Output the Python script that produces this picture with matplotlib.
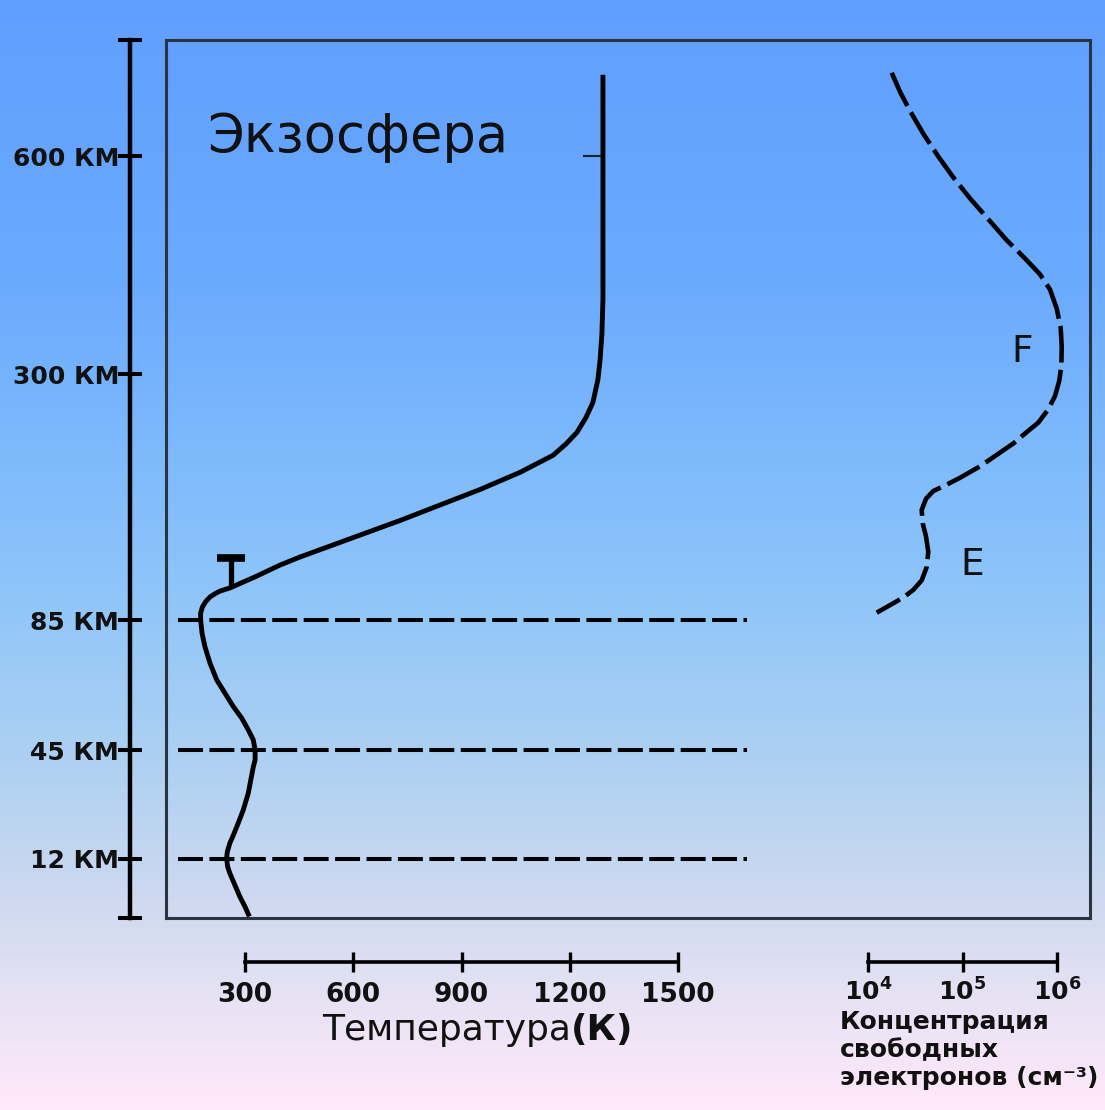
import numpy as np
import matplotlib.pyplot as plt
from matplotlib.colors import LinearSegmentedColormap
from matplotlib.ticker import NullLocator

W, H = 1105, 1110

# --- data -----------------------------------------------------------------
# altitude ticks on the left axis (km)
ALT_TICKS = [12, 45, 85, 300, 600]
ALT_LABELS = ['12 КМ', '45 КМ', '85 КМ', '300 КМ', '600 КМ']
ALT_TOP = 760
LAYER_ALTS = [12, 45, 85]
LAYER_T_RANGE = (115, 1690)

# temperature profile
temp_alt = [0.3, 2.3, 4.3, 6.7, 9.1, 10.4, 12.2, 14.2, 16.8, 19.3, 22.8,
            26.8, 31.9, 35.9, 39.9, 42.0, 45, 48.1, 51.2, 54.8, 58.3, 62.4,
            66.5, 71.7, 76.8, 80.9, 85, 91.1, 96.4, 101, 105.1, 108, 110.3,
            113, 123, 133, 140, 172, 199, 214, 229, 239, 249, 262, 275, 295,
            319, 354, 402, 540, 712]
temp_K = [312, 300, 286, 272, 258, 252, 249, 251, 258, 268, 281,
          295, 309, 316, 323, 328, 328, 323, 309, 291, 268, 245,
          222, 203, 189, 181, 177, 177, 182, 191, 203, 217, 231,
          258, 330, 397, 452, 730, 951, 1062, 1154, 1190, 1220, 1245, 1264,
          1278, 1284, 1289, 1292, 1292, 1292]

# thermopause marker and 600 km tick on the curve
MARK_T = 260
MARK_ALT = (113, 139)
TICK600_T = (1240, 1285)

TEMP_TICKS = [300, 600, 900, 1200, 1500]

# free electron concentration (log10 cm^-3)
elec_alt = [714.8, 688.5, 662.3, 630.8, 599.3, 570.5, 541.8, 513.0, 484.2,
            459.1, 437.2, 416.3, 390.0, 363.8, 337.7, 311.6, 294.1, 280.8,
            269.2, 257.5, 249.2, 239.3, 229.3, 219.3, 209.3, 202.6, 197.7,
            191.0, 181.1, 169.5, 157.9, 144.6, 131.2, 119.6, 111.3, 104.7,
            98.0, 91.4]
elec_log = [4.251, 4.339, 4.444, 4.585, 4.744, 4.903, 5.079, 5.273, 5.467,
            5.661, 5.820, 5.926, 5.997, 6.039, 6.050, 6.046, 6.024, 5.979,
            5.908, 5.802, 5.679, 5.538, 5.362, 5.185, 4.974, 4.815, 4.691,
            4.614, 4.568, 4.579, 4.614, 4.638, 4.621, 4.568, 4.479, 4.374,
            4.233, 4.092]
ELEC_TICKS = [1e4, 1e5, 1e6]
ELEC_LABELS = [r'$\mathbf{10^4}$', r'$\mathbf{10^5}$', r'$\mathbf{10^6}$']

# --- layout helpers ----------------------------------------------------------
ALT_ANCHOR = np.array([0, 12, 45, 85, 300, 600, 760, 2000])
POS_ANCHOR = np.array([0, 59, 168, 298, 544, 762, 878, 1970.0])


def alt_fwd(a):
    return np.interp(a, ALT_ANCHOR, POS_ANCHOR)


def alt_inv(p):
    return np.interp(p, POS_ANCHOR, ALT_ANCHOR)


def rect(x0, y0, x1, y1):
    return [x0 / W, 1 - y1 / H, (x1 - x0) / W, (y1 - y0) / H]


fig = plt.figure(figsize=(W / 100, H / 100), dpi=100)

# background gradient
bg = fig.add_axes([0, 0, 1, 1], zorder=-5)
cmap = LinearSegmentedColormap.from_list('sky', [
    (0.0, '#609fff'), (0.25, '#6aaafe'), (0.52, '#8cc4fa'),
    (0.68, '#acd0f2'), (0.8, '#cbd8f0'), (0.9, '#e6e2f4'),
    (1.0, '#ffe9fa')])
grad = np.linspace(0, 1, 256).reshape(-1, 1)
bg.imshow(grad, aspect='auto', cmap=cmap, extent=[0, 1, 0, 1])
bg.axis('off')

# main box
BOX = (166, 40, 1090, 918)
ax = fig.add_axes(rect(*BOX))
ax.patch.set_alpha(0)
ax.set_yscale('function', functions=(alt_fwd, alt_inv))
ax.set_ylim(0, ALT_TOP)
k = (678 - 245) / 1200.0
ax.set_xlim(300 - (245 - BOX[0]) / k, 300 + (BOX[2] - 245) / k)
ax.set_xticks([])
ax.set_yticks([])
ax.yaxis.set_minor_locator(NullLocator())
for s in ax.spines.values():
    s.set_linewidth(2.2)
    s.set_color('#2a3340')

ax.plot(temp_K, temp_alt, color='black', lw=3.5, solid_capstyle='butt',
        solid_joinstyle='round')
for a in LAYER_ALTS:
    ax.plot(LAYER_T_RANGE, [a, a], color='black', lw=2.9,
            dashes=(6.2, 1.6))
ax.plot([MARK_T, MARK_T], MARK_ALT, color='black', lw=3.8, solid_capstyle='butt')
ax.plot([MARK_T], [MARK_ALT[1]], marker='_', ms=20, mew=5.5, color='black')
ax.plot(TICK600_T, [600, 600], color='#1a2030', lw=1.5)

ax.text(0.0444, 0.8724, 'Экзосфера', transform=ax.transAxes,
        fontsize=38, color='#111111', va='baseline', ha='left')

# electron concentration on a log axis sharing altitude
ax2 = ax.twiny()
ax2.set_xscale('log')
dec = (1057 - 868) / 2.0
ax2.set_xlim(10 ** (4 - (868 - BOX[0]) / dec), 10 ** (6 + (BOX[2] - 1057) / dec))
ax2.set_xticks([])
ax2.xaxis.set_minor_locator(NullLocator())
for s in ax2.spines.values():
    s.set_visible(False)
ax2.plot(10 ** np.array(elec_log), elec_alt, color='black', lw=3.3,
         dashes=(8, 1.6), solid_joinstyle='round')
ax2.text(10 ** 5.63, 330, 'F', fontsize=27, color='#111111',
         ha='center', va='center')
ax2.text(10 ** 5.10, 133, 'E', fontsize=27, color='#111111',
         ha='center', va='center')

# left altitude axis
axL = fig.add_axes(rect(130, BOX[1], 131, BOX[3]))
axL.patch.set_alpha(0)
axL.set_yscale('function', functions=(alt_fwd, alt_inv))
axL.set_ylim(0, ALT_TOP)
axL.set_xticks([])
for s in ['top', 'bottom', 'right']:
    axL.spines[s].set_visible(False)
axL.spines['left'].set_linewidth(3.2)
axL.set_yticks([0] + ALT_TICKS + [ALT_TOP])
axL.set_yticklabels([''] + ALT_LABELS + [''], fontsize=18,
                    fontweight='bold', color='#111111')
axL.yaxis.set_minor_locator(NullLocator())
axL.tick_params(axis='y', direction='inout', length=17, width=2.9, pad=-0.5)

# temperature ruler
axT = fig.add_axes(rect(245, 961, 678, 962))
axT.patch.set_alpha(0)
axT.set_xlim(TEMP_TICKS[0], TEMP_TICKS[-1])
axT.set_yticks([])
for s in ['top', 'left', 'right']:
    axT.spines[s].set_visible(False)
axT.spines['bottom'].set_linewidth(2.6)
axT.set_xticks(TEMP_TICKS)
axT.set_xticklabels([str(t) for t in TEMP_TICKS], fontsize=19,
                    fontweight='bold', color='#111111')
axT.tick_params(axis='x', direction='inout', length=15, width=2.4, pad=7)
t1 = fig.text(322 / W, 1 - 1040 / H, 'Температура', fontsize=26,
              ha='left', va='baseline', color='#111111')
ax.annotate('(К)', xy=(1, 0), xycoords=t1, fontsize=26, fontweight='bold',
            ha='left', va='bottom', color='#111111', annotation_clip=False)

# electron ruler
axE = fig.add_axes(rect(868, 961, 1057, 962))
axE.patch.set_alpha(0)
axE.set_xscale('log')
axE.set_xlim(ELEC_TICKS[0], ELEC_TICKS[-1])
axE.set_yticks([])
for s in ['top', 'left', 'right']:
    axE.spines[s].set_visible(False)
axE.spines['bottom'].set_linewidth(2.6)
axE.set_xticks(ELEC_TICKS)
axE.set_xticklabels(ELEC_LABELS, fontsize=18, color='#111111')
axE.xaxis.set_minor_locator(NullLocator())
axE.tick_params(axis='x', direction='inout', length=15, width=2.4, pad=4)
fig.text(840 / W, 1 - 1010 / H,
         'Концентрация\nсвободных\nэлектронов (см⁻³)',
         fontsize=18, fontweight='bold', ha='left', va='top',
         color='#111111', linespacing=1.2)

fig.savefig('out.png', dpi=100)
